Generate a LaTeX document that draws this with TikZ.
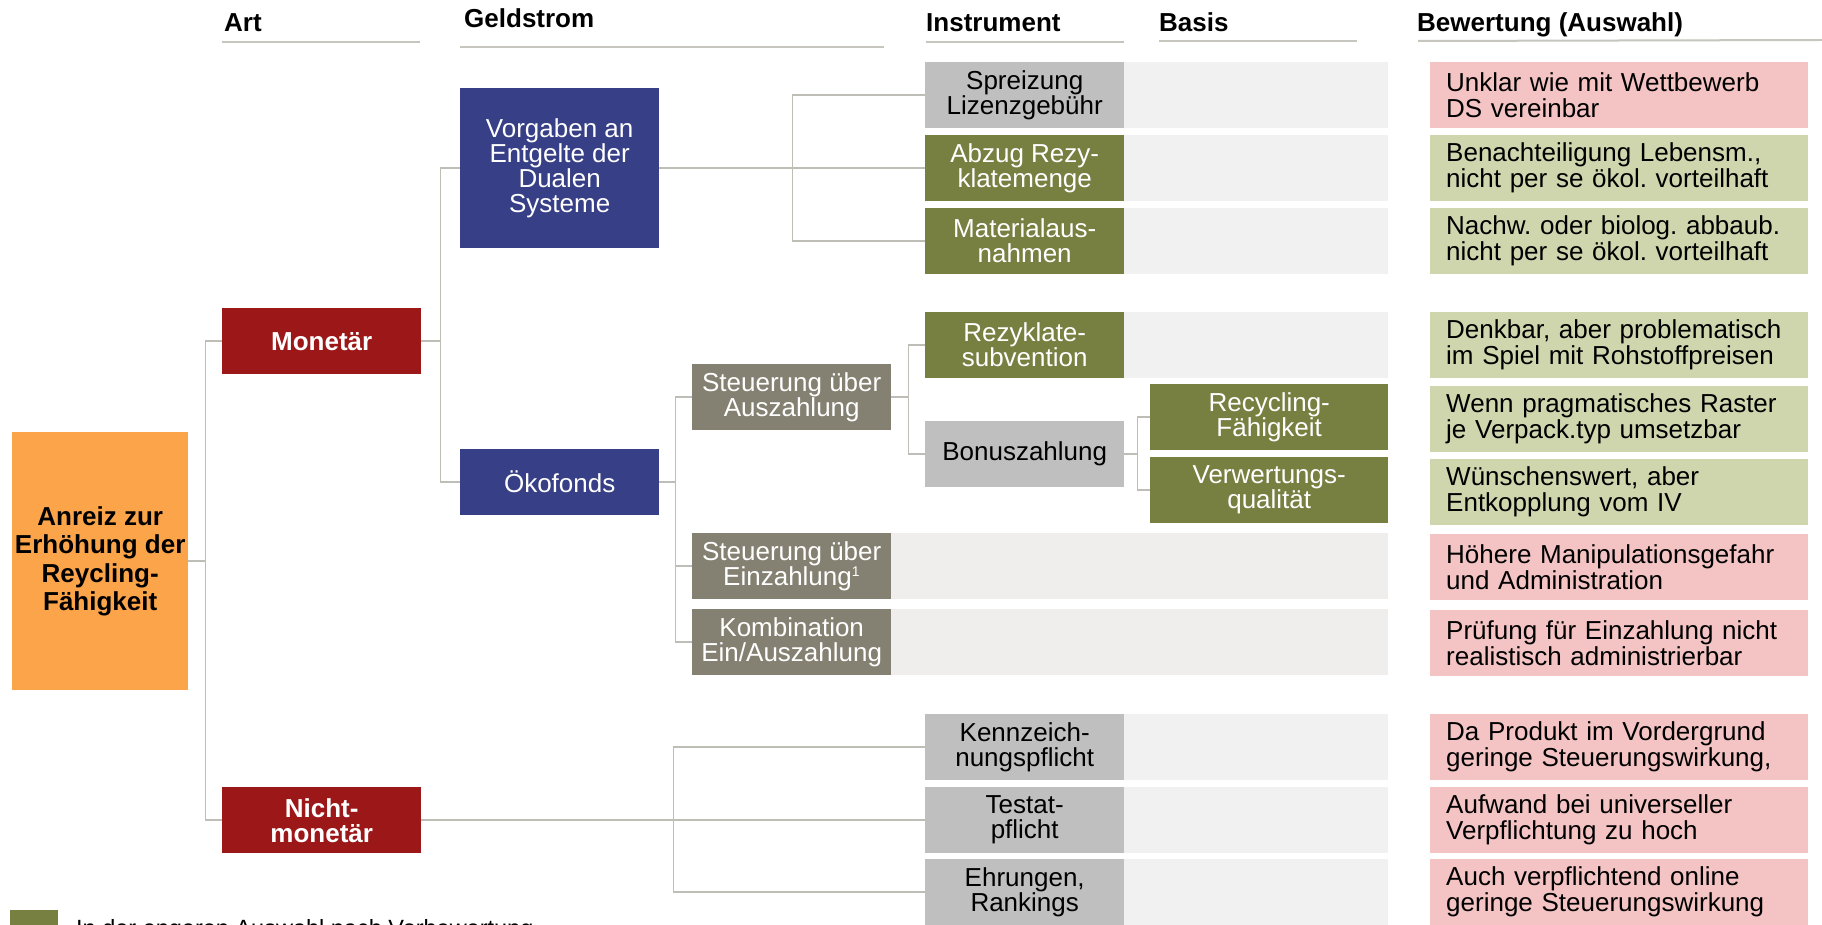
\documentclass[tikz,border=0pt]{standalone}
\usepackage{fontspec}
\setmainfont{Liberation Sans}
\frenchspacing
\definecolor{cOrange}{HTML}{FBA44A}
\definecolor{cRed}{HTML}{9B1718}
\definecolor{cBlue}{HTML}{373F86}
\definecolor{cStone}{HTML}{858172}
\definecolor{cOlive}{HTML}{788041}
\definecolor{cLGray}{HTML}{BFBFBF}
\definecolor{cBg}{HTML}{F1F1F1}
\definecolor{cBgB}{HTML}{EFEEEC}
\definecolor{cPink}{HTML}{F4C3C3}
\definecolor{cLGreen}{HTML}{CFD5AC}
\definecolor{cLine}{HTML}{BEBDB6}
\definecolor{cRule}{HTML}{C6C5BE}
\newcommand\txtA{\fontsize{26}{25}\selectfont}
\newcommand\txtB{\fontsize{26}{26}\selectfont}
\newcommand\txtH{\fontsize{26}{28.5}\selectfont\bfseries}
\newcommand\txtHd{\fontsize{26}{28}\selectfont\bfseries}
\tikzset{
  bx/.style={anchor=north west, inner sep=0pt, minimum width=199pt, minimum height=66pt, align=center, font=\txtA},
  redbox/.style={bx, fill=cRed, text=white, font=\txtHd},
  bluebox/.style={bx, fill=cBlue, text=white},
  stonebox/.style={bx, fill=cStone, text=white},
  olivebox/.style={bx, fill=cOlive, text=white},
  graybox/.style={bx, fill=cLGray, text=black},
  evalbox/.style={anchor=north west, inner xsep=16pt, inner ysep=0pt, text width=346pt, minimum height=66pt, align=left, font=\txtB, text=black},
  evpink/.style={evalbox, fill=cPink},
  evgreen/.style={evalbox, fill=cLGreen},
  hdr/.style={anchor=base west, inner sep=0pt, font=\txtHd},
  rulel/.style={draw=cRule, line width=2pt},
  conn/.style={draw=cLine, line width=1.5pt},
}
\begin{document}
\begin{tikzpicture}[x=1pt,y=-1pt]
\useasboundingbox (0,0) rectangle (1822,925);
\clip (0,0) rectangle (1822,925);
\fill[white] (0,0) rectangle (1822,925);

% headers
\node[hdr] (hArt) at (224,32) {Art};
\node[hdr] (hGeld) at (464,28) {Geldstrom};
\node[hdr] (hInst) at (926,32) {Instrument};
\node[hdr] (hBasis) at (1159,32) {Basis};
\node[hdr] (hBew) at (1417,32) {Bewertung (Auswahl)};
\draw[rulel] (222,42) -- (420,42);
\draw[rulel] (460,47) -- (884,47);
\draw[rulel] (926,42) -- (1124,42);
\draw[rulel] (1159,41) -- (1357,41);
\draw[rulel] (1418,41) -- (1822,40);

% basis backgrounds
\fill[cBg] (1124,62) rectangle (1388,128);
\fill[cBg] (1124,135) rectangle (1388,201);
\fill[cBg] (1124,208) rectangle (1388,274);
\fill[cBg] (1124,312) rectangle (1388,378);
\fill[cBgB] (891,533) rectangle (1388,599);
\fill[cBgB] (891,609) rectangle (1388,675);
\fill[cBg] (1124,714) rectangle (1388,780);
\fill[cBg] (1124,787) rectangle (1388,853);
\fill[cBg] (1124,859) rectangle (1388,925);

% root
\node[anchor=north west, inner sep=0pt, minimum width=176pt, minimum height=258pt, fill=cOrange, align=center, font=\txtH] (anreiz) at (12,432) {Anreiz zur\\Erhöhung der\\Reycling-\\Fähigkeit};

% Art
\node[redbox] (monetaer) at (222,308) {Monetär};
\node[redbox, font=\fontsize{26}{25}\selectfont\bfseries] (nicht) at (222,787) {Nicht-\\monetär};

% Geldstrom
\node[bluebox, minimum height=160pt] (vorgaben) at (460,88) {Vorgaben an\\Entgelte der\\Dualen\\Systeme};
\node[bluebox] (oeko) at (460,449) {Ökofonds};
\node[stonebox] (stA) at (692,364) {Steuerung über\\Auszahlung};
\node[stonebox] (stE) at (692,533) {Steuerung über\\Einzahlung\textsuperscript{\fontsize{14}{14}\selectfont 1}};
\node[stonebox] (komb) at (692,609) {Kombination\\Ein/Auszahlung};

% Instrument
\node[graybox] (spreiz) at (925,62) {Spreizung\\Lizenzgebühr};
\node[olivebox] (abzug) at (925,135) {Abzug Rezy-\\klatemenge};
\node[olivebox] (material) at (925,208) {Materialaus-\\nahmen};
\node[olivebox] (rezyk) at (925,312) {Rezyklate-\\subvention};
\node[graybox] (bonus) at (925,421) {Bonuszahlung};
\node[graybox] (kennz) at (925,714) {Kennzeich-\\nungspflicht};
\node[graybox] (testat) at (925,787) {Testat-\\pflicht};
\node[graybox] (ehr) at (925,859) {Ehrungen,\\Rankings};

% Basis
\node[olivebox, minimum width=238pt] (recyc) at (1150,384) {Recycling-\\Fähigkeit};
\node[olivebox, minimum width=238pt] (verw) at (1150,457) {Verwertungs-\\qualität};

% Bewertung
\node[evpink] (e1) at (1430,62) {Unklar wie mit Wettbewerb\\DS vereinbar};
\node[evgreen] (e2) at (1430,135) {Benachteiligung Lebensm.,\\nicht per se ökol. vorteilhaft};
\node[evgreen] (e3) at (1430,208) {Nachw. oder biolog. abbaub.\\nicht per se ökol. vorteilhaft};
\node[evgreen] (e4) at (1430,312) {Denkbar, aber problematisch\\im Spiel mit Rohstoffpreisen};
\node[evgreen] (e5) at (1430,386) {Wenn pragmatisches Raster\\je Verpack.typ umsetzbar};
\node[evgreen] (e6) at (1430,459) {Wünschenswert, aber\\Entkopplung vom IV};
\node[evpink] (e7) at (1430,534) {Höhere Manipulationsgefahr\\und Administration};
\node[evpink] (e8) at (1430,610) {Prüfung für Einzahlung nicht\\realistisch administrierbar};
\node[evpink] (e9) at (1430,714) {Da Produkt im Vordergrund\\geringe Steuerungswirkung,};
\node[evpink] (e10) at (1430,787) {Aufwand bei universeller\\Verpflichtung zu hoch};
\node[evpink] (e11) at (1430,859) {Auch verpflichtend online\\geringe Steuerungswirkung};

% connectors
\draw[conn] (anreiz.east) -- ++(17,0) |- (monetaer.west);
\draw[conn] (anreiz.east) -- ++(17,0) |- (nicht.west);
\draw[conn] (monetaer.east) -- ++(19,0) |- (vorgaben.west);
\draw[conn] (monetaer.east) -- ++(19,0) |- (oeko.west);
\draw[conn] (vorgaben.east) -- (abzug.west);
\draw[conn] (vorgaben.east) -- ++(133,0) |- (spreiz.west);
\draw[conn] (vorgaben.east) -- ++(133,0) |- (material.west);
\draw[conn] (oeko.east) -- ++(16,0) |- (stA.west);
\draw[conn] (oeko.east) -- ++(16,0) |- (stE.west);
\draw[conn] (oeko.east) -- ++(16,0) |- (komb.west);
\draw[conn] (stA.east) -- ++(17,0) |- (rezyk.west);
\draw[conn] (stA.east) -- ++(17,0) |- (bonus.west);
\draw[conn] (bonus.east) -- ++(13,0) |- (recyc.west);
\draw[conn] (bonus.east) -- ++(13,0) |- (verw.west);
\draw[conn] (nicht.east) -- ++(252,0) |- (kennz.west);
\draw[conn] (nicht.east) -- ++(252,0) |- (testat.west);
\draw[conn] (nicht.east) -- ++(252,0) |- (ehr.west);

% legend
\fill[cOlive] (10,910) rectangle (58,960);
\node[anchor=base west, inner sep=0pt, font=\fontsize{23.5}{24}\selectfont] (leg) at (76,936) {In der engeren Auswahl nach Vorbewertung};
\end{tikzpicture}
\end{document}
